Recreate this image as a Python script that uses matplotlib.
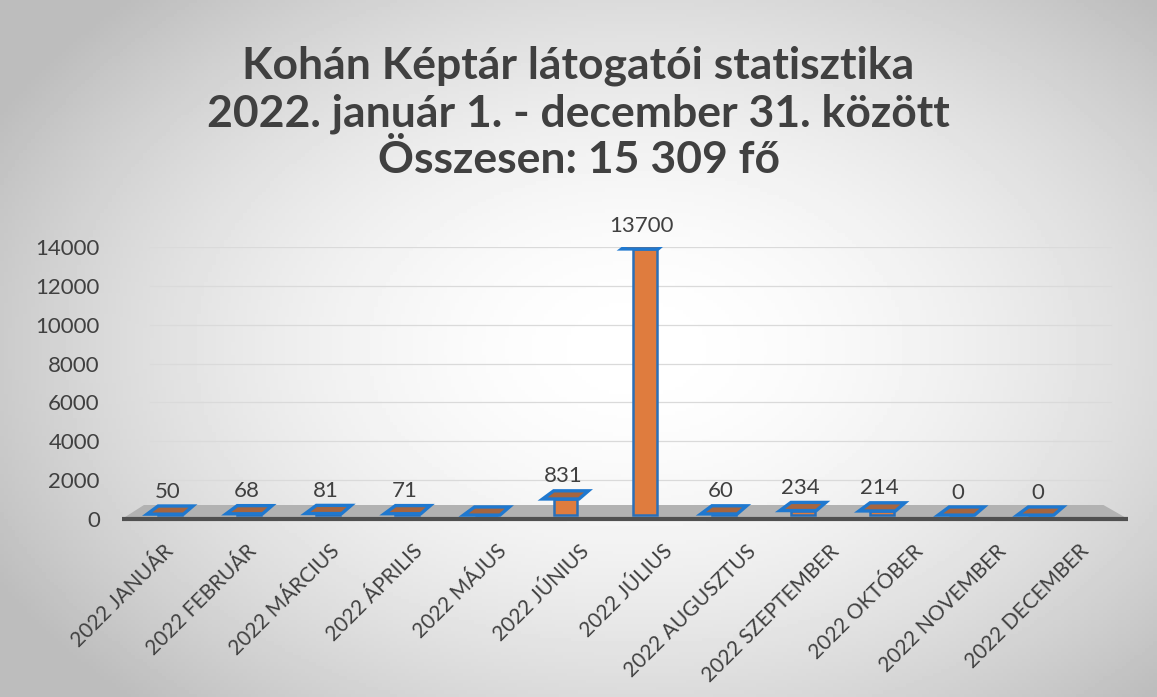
import numpy as np
import matplotlib.pyplot as plt
from matplotlib.patches import Polygon

plt.rcParams['font.family'] = ['Lato', 'DejaVu Sans']

honapok = ["2022 JANUÁR", "2022 FEBRUÁR", "2022 MÁRCIUS", "2022 ÁPRILIS",
           "2022 MÁJUS", "2022 JÚNIUS", "2022 JÚLIUS", "2022 AUGUSZTUS",
           "2022 SZEPTEMBER", "2022 OKTÓBER", "2022 NOVEMBER", "2022 DECEMBER"]
latogatok = [50, 68, 81, 71, 0, 831, 13700, 60, 234, 214, 0, 0]
cimkek = ["50", "68", "81", "71", "", "831", "13700", "60", "234", "214", "0", "0"]
yticks = [0, 2000, 4000, 6000, 8000, 10000, 12000, 14000]

cim = "Kohán Képtár látogatói statisztika\n2022. január 1. - december 31. között\nÖsszesen: 15 309 fő"

szoveg = "#404040"
narancs = "#DF7C3E"
barna = "#A6653F"
kek = "#1F78CF"

W, H = 1157, 697
fig = plt.figure(figsize=(W / 100, H / 100), dpi=100)

# hatter (szkennelt lap: vilagos kozep, szurke szelek)
bg = fig.add_axes([0, 0, 1, 1], zorder=-10)
yy, xx = np.mgrid[0:1:200j, 0:1:300j]
r = np.sqrt(((xx - 0.55) / 0.72) ** 2 + ((yy - 0.5) / 0.8) ** 2)
bg.imshow(np.clip(1 - 0.33 * r ** 1.8, 0.74, 1), cmap="gray", vmin=0, vmax=1,
          aspect="auto", extent=[0, 1, 0, 1])
bg.axis("off")

# diagram terulet (pixelben: bal 122, jobb 1128, y=0 -> 519, 14000 -> 247)
rect = [122 / W, (H - 519) / H, 1006 / W, 272 / H]
ax = fig.add_axes(rect)
ax.set_xlim(-0.607, 12.11)
ax.set_ylim(0, 14000)
ax.patch.set_alpha(0)
for s in ax.spines.values():
    s.set_visible(False)

for t in yticks[1:]:
    ax.plot([-0.25, 11.9], [t, t], color="#dadada", lw=0.9, zorder=1)

# padlo
ax.add_patch(Polygon([(-0.607, 0), (12.11, 0), (11.8, 720), (-0.33, 720)],
                     closed=True, facecolor="#b2b2b2", edgecolor="none", zorder=2))
ax.plot([-0.607, 12.11], [0, 0], color="#505050", lw=3, zorder=3,
        solid_capstyle="butt", clip_on=False)

x = np.arange(len(honapok))
w = 0.30
ax.bar(x, latogatok, width=w, bottom=200, color=narancs, edgecolor="#2a6fb8",
       linewidth=1.8, zorder=4)
# teto lapok (3D hatas)
for xi, v in zip(x, latogatok):
    ax.add_patch(Polygon([(xi - 0.29, v + 200), (xi + 0.17, v + 200),
                          (xi + 0.29, v + 620), (xi - 0.15, v + 620)],
                         closed=True, facecolor=barna, edgecolor=kek,
                         linewidth=2.4, zorder=5))

for xi, v, c in zip(x, latogatok, cimkek):
    if c:
        ax.annotate(c, (xi, v), xytext=(-2, 19), textcoords="offset points",
                    ha="center", va="center", fontsize=16, color=szoveg)

ax.set_yticks(yticks)
ax.set_yticklabels([str(t) for t in yticks], fontsize=16, color=szoveg)
ax.tick_params(axis="y", length=0, pad=16)
ax.set_xticks([])

# honap feliratok (kicsit szelesebb lepeskoz a perspektiva miatt)
ax2 = fig.add_axes(rect, sharey=ax)
ax2.set_xlim(-0.49, 11.587)
ax2.patch.set_alpha(0)
for s in ax2.spines.values():
    s.set_visible(False)
ax2.set_xticks(x)
ax2.set_xticklabels(honapok, rotation=45, ha="right", va="top",
                    rotation_mode="anchor", fontsize=15, color=szoveg)
ax2.tick_params(axis="x", length=0, pad=16)
ax2.tick_params(axis="y", left=False, labelleft=False)

fig.text(0.5, 1 - 113 / H, cim, ha="center", va="center", fontsize=32,
         fontweight="bold", color=szoveg, linespacing=1.2)

fig.savefig("out.png", dpi=100)
